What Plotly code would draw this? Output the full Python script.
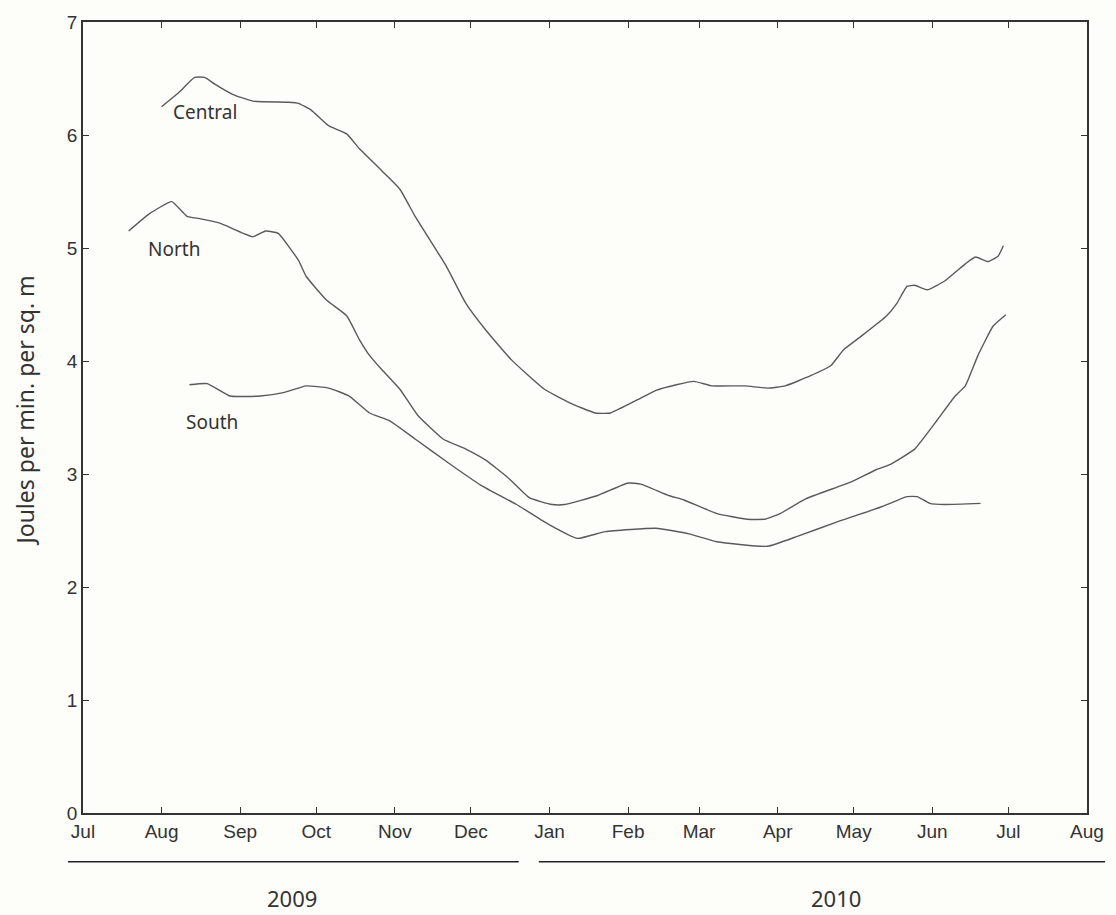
import plotly.graph_objects as go

# Daily energy expenditure by region, July 2009 - July 2010
central_dates = [
    "2009-08-01", "2009-08-08", "2009-08-14", "2009-08-18", "2009-08-22", "2009-08-29",
    "2009-09-06", "2009-09-20", "2009-09-24", "2009-09-29", "2009-10-06", "2009-10-13",
    "2009-10-18", "2009-10-27", "2009-11-03", "2009-11-09", "2009-11-21", "2009-11-29",
    "2009-12-07", "2009-12-17", "2009-12-30", "2010-01-09", "2010-01-19", "2010-01-25",
    "2010-02-05", "2010-02-12", "2010-02-20", "2010-02-27", "2010-03-06", "2010-03-19",
    "2010-03-28", "2010-04-04", "2010-04-14", "2010-04-22", "2010-04-27", "2010-05-04",
    "2010-05-14", "2010-05-18", "2010-05-22", "2010-05-25", "2010-05-30", "2010-06-06",
    "2010-06-14", "2010-06-18", "2010-06-23", "2010-06-27", "2010-06-29",
]
central_vals = [
    6.25, 6.38, 6.51, 6.51, 6.45, 6.36,
    6.30, 6.29, 6.28, 6.22, 6.08, 6.01,
    5.88, 5.68, 5.52, 5.28, 4.85, 4.51,
    4.27, 4.01, 3.75, 3.63, 3.54, 3.54,
    3.66, 3.74, 3.79, 3.82, 3.78, 3.78,
    3.76, 3.78, 3.87, 3.96, 4.10, 4.22,
    4.40, 4.51, 4.66, 4.67, 4.63, 4.71,
    4.86, 4.92, 4.88, 4.93, 5.02,
]

north_dates = [
    "2009-07-19", "2009-07-27", "2009-08-05", "2009-08-11", "2009-08-16", "2009-08-24",
    "2009-09-06", "2009-09-11", "2009-09-16", "2009-09-24", "2009-09-27", "2009-10-05",
    "2009-10-13", "2009-10-18", "2009-10-22", "2009-10-27", "2009-11-03", "2009-11-10",
    "2009-11-20", "2009-11-29", "2009-12-07", "2009-12-16", "2009-12-24", "2010-01-02",
    "2010-01-07", "2010-01-20", "2010-02-01", "2010-02-06", "2010-02-17", "2010-02-23",
    "2010-03-08", "2010-03-20", "2010-03-27", "2010-04-02", "2010-04-12", "2010-04-30",
    "2010-05-10", "2010-05-15", "2010-05-25", "2010-06-03", "2010-06-10", "2010-06-14",
    "2010-06-19", "2010-06-25", "2010-06-30",
]
north_vals = [
    5.15, 5.30, 5.41, 5.28, 5.26, 5.22,
    5.10, 5.15, 5.13, 4.89, 4.75, 4.54,
    4.40, 4.19, 4.05, 3.92, 3.75, 3.52,
    3.31, 3.22, 3.12, 2.96, 2.79, 2.73,
    2.73, 2.81, 2.92, 2.91, 2.81, 2.77,
    2.65, 2.60, 2.60, 2.65, 2.78, 2.93,
    3.04, 3.08, 3.22, 3.48, 3.69, 3.78,
    4.05, 4.31, 4.41,
]

south_dates = [
    "2009-08-12", "2009-08-19", "2009-08-28", "2009-09-09", "2009-09-18", "2009-09-27",
    "2009-10-06", "2009-10-14", "2009-10-22", "2009-10-30", "2009-11-09", "2009-11-22",
    "2009-12-05", "2009-12-19", "2010-01-01", "2010-01-12", "2010-01-23", "2010-02-12",
    "2010-02-25", "2010-03-08", "2010-03-28", "2010-04-09", "2010-04-25", "2010-05-12",
    "2010-05-22", "2010-05-26", "2010-05-31", "2010-06-06", "2010-06-20",
]
south_vals = [
    3.79, 3.80, 3.69, 3.69, 3.72, 3.78,
    3.76, 3.69, 3.54, 3.47, 3.31, 3.10,
    2.90, 2.73, 2.55, 2.43, 2.49, 2.52,
    2.47, 2.40, 2.36, 2.45, 2.58, 2.71,
    2.80, 2.80, 2.74, 2.73, 2.74,
]

series_names = ["Central", "North", "South"]
label_dates = ["2009-08-18", "2009-08-06", "2009-08-21"]
label_vals = [6.20, 4.99, 3.46]

year_labels = ["2009", "2010"]

LINE = "#5a5a5a"
FRAME = "#333333"
TEXT = "#333333"
BG = "#fdfdf9"

fig = go.Figure()
for name, xs, ys in zip(series_names,
                        [central_dates, north_dates, south_dates],
                        [central_vals, north_vals, south_vals]):
    fig.add_trace(go.Scatter(
        x=xs, y=ys, mode="lines", name=name,
        line=dict(color=LINE, width=1.4, shape="spline", smoothing=0.4),
        showlegend=False, hoverinfo="skip",
    ))

# In-plot series labels
for name, xd, yv in zip(series_names, label_dates, label_vals):
    fig.add_annotation(x=xd, y=yv, xref="x", yref="y", text=name,
                       showarrow=False, xanchor="center", yanchor="middle",
                       font=dict(family="Noto Sans", size=19, color=TEXT))

# Y-axis title
fig.add_annotation(x=-0.0576, y=0.509, xref="paper", yref="paper",
                   text="Joules per min. per sq. m", textangle=-90,
                   showarrow=False, xanchor="center", yanchor="middle",
                   font=dict(family="Noto Sans", size=23, color=TEXT))

# Season bars with year labels below the month axis
bar_spans = [(-0.015, 0.434), (0.454, 1.018)]
year_x = [0.2085, 0.7497]
for (x0, x1), yl, xc in zip(bar_spans, year_labels, year_x):
    fig.add_shape(type="line", xref="paper", yref="paper",
                  x0=x0, x1=x1, y0=-0.0616, y1=-0.0616,
                  line=dict(color="#222222", width=1.6))
    fig.add_annotation(x=xc, y=-0.107, xref="paper", yref="paper", text=yl,
                       showarrow=False, xanchor="center", yanchor="middle",
                       font=dict(family="Noto Sans", size=22, color=TEXT))

axis_common = dict(
    showline=True, linecolor=FRAME, linewidth=1.5, mirror="ticks",
    ticks="inside", ticklen=6, tickwidth=1, tickcolor=FRAME,
    showgrid=False, zeroline=False,
    tickfont=dict(family="Liberation Sans", size=19, color=TEXT),
)

fig.update_xaxes(type="date", range=["2009-07-01", "2010-08-01"],
                 dtick="M1", tick0="2009-07-01", tickformat="%b",
                 **axis_common)
fig.update_yaxes(range=[0, 7], dtick=1, tick0=0, **axis_common)

fig.update_layout(
    width=1116, height=915,
    margin=dict(l=83, r=26, t=17, b=102),
    paper_bgcolor=BG, plot_bgcolor=BG,
    showlegend=False,
)

fig.write_html("out.html")
